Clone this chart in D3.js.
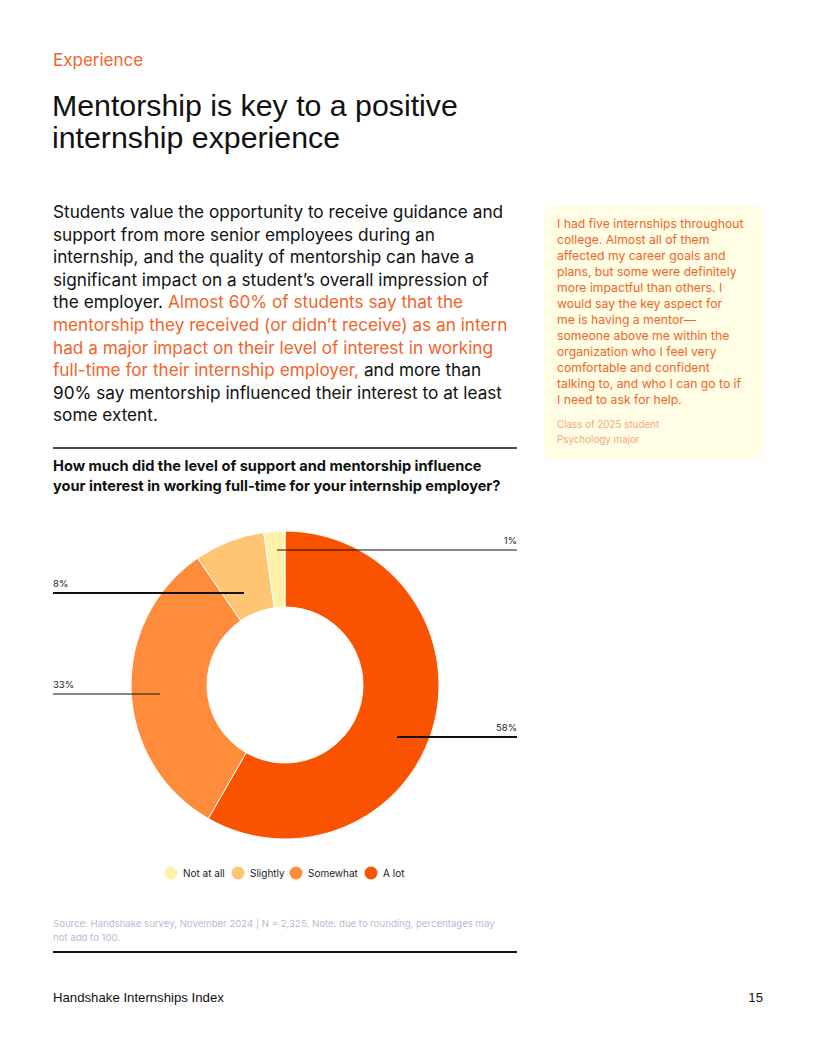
<!DOCTYPE html>
<html><head><meta charset="utf-8">
<script src="https://cdn.jsdelivr.net/npm/d3@7"></script>
<style>body{margin:0;background:#fff;} svg{display:block;}</style>
</head><body>
<svg id="page" width="816" height="1056"></svg>
<script>
// ---- data ----
const categories = ["Not at all", "Slightly", "Somewhat", "A lot"];
const shares = [2.2, 7.4, 32.1, 58.3];           // slice sizes as drawn
const shareLabels = ["1%", "8%", "33%", "58%"];   // printed labels
const colors = ["#FFF1A8", "#FFC572", "#FF8C3B", "#F95200"];

const ORANGE = "#F0652A";
const svg = d3.select("#page");
const F = "Inter, 'Noto Sans', sans-serif";

// header
svg.append("text").attr("x",53).attr("y",66).attr("font-family",F).attr("font-size",17).attr("fill",ORANGE).text("Experience");
["Mentorship is key to a positive","internship experience"].forEach((t,i)=>
  svg.append("text").attr("x",52).attr("y",116+i*32).attr("font-family","'Liberation Sans', Arial, sans-serif")
    .attr("font-size",30.3).attr("fill","#111").text(t));

// body paragraph
const body = [
 [["Students value the opportunity to receive guidance and","#111"]],
 [["support from more senior employees during an","#111"]],
 [["internship, and the quality of mentorship can have a","#111"]],
 [["significant impact on a student\u2019s overall impression of","#111"]],
 [["the employer. ","#111"],["Almost 60% of students say that the",ORANGE]],
 [["mentorship they received (or didn\u2019t receive) as an intern",ORANGE]],
 [["had a major impact on their level of interest in working",ORANGE]],
 [["full-time for their internship employer,",ORANGE],[" and more than","#111"]],
 [["90% say mentorship influenced their interest to at least","#111"]],
 [["some extent.","#111"]]
];
const bt = svg.append("text").attr("font-family",F).attr("font-size",17.2);
body.forEach((line,i)=>{
  line.forEach((seg,j)=>{
    const ts = bt.append("tspan").attr("fill",seg[1]).text(seg[0]);
    if(j===0) ts.attr("x",53).attr("y",218+i*22.6);
  });
});

// quote box
svg.append("rect").attr("x",544).attr("y",205).attr("width",219).attr("height",255).attr("rx",11).attr("fill","#FFFDE3");
const quote = ["I had five internships throughout","college. Almost all of them","affected my career goals and",
 "plans, but some were definitely","more impactful than others. I","would say the key aspect for",
 "me is having a mentor\u2014","someone above me within the","organization who I feel very",
 "comfortable and confident","talking to, and who I can go to if","I need to ask for help."];
quote.forEach((t,i)=>svg.append("text").attr("x",557).attr("y",228+i*16).attr("font-family",F)
  .attr("font-size",12.2).attr("fill",ORANGE).text(t));
["Class of 2025 student","Psychology major"].forEach((t,i)=>svg.append("text").attr("x",557).attr("y",428+i*15)
  .attr("font-family",F).attr("font-size",9.8).attr("fill","#F6A77F").text(t));

// rules
svg.append("line").attr("x1",53).attr("x2",517).attr("y1",448).attr("y2",448).attr("stroke","#111").attr("stroke-width",1.5);
svg.append("line").attr("x1",53).attr("x2",517).attr("y1",952).attr("y2",952).attr("stroke","#111").attr("stroke-width",2);

// chart question
["How much did the level of support and mentorship influence","your interest in working full-time for your internship employer?"]
 .forEach((t,i)=>svg.append("text").attr("x",53).attr("y",471+i*19.5).attr("font-family",F).attr("font-weight",700)
  .attr("font-size",14.6).attr("fill","#111").text(t));

// donut
const cx=285, cy=685, R=154, r=78;
const order=[3,2,1,0]; // A lot first, clockwise from top
const pie = d3.pie().sort(null).value(i=>shares[i]);
const arcs = pie(order);
const arc = d3.arc().innerRadius(r).outerRadius(R);
const g = svg.append("g").attr("transform",`translate(${cx},${cy})`);
g.selectAll("path").data(arcs).join("path").attr("d",arc)
  .attr("fill",d=>colors[d.data]).attr("stroke","#fff").attr("stroke-width",1);

// leader lines & labels
const leaders = {
  0:{x1:277,y:550,x2:517,w:1,  lx:517, anchor:"end"},
  1:{x1:244,y:593,x2:53, w:2,  lx:53,  anchor:"start"},
  2:{x1:160,y:694,x2:53, w:1,  lx:53,  anchor:"start"},
  3:{x1:397,y:737,x2:517,w:2,  lx:517, anchor:"end"}
};
categories.forEach((c,i)=>{
  const L=leaders[i];
  svg.append("line").attr("x1",L.x1).attr("x2",L.x2).attr("y1",L.y).attr("y2",L.y)
    .attr("stroke","#111").attr("stroke-width",L.w);
  svg.append("text").attr("x",L.lx).attr("y",L.y-6).attr("text-anchor",L.anchor)
    .attr("font-family",F).attr("font-size",9.5).attr("fill","#222").text(shareLabels[i]);
});

// legend
const legX=[171,238,296,371];
categories.forEach((c,i)=>{
  svg.append("circle").attr("cx",legX[i]).attr("cy",873).attr("r",6.5).attr("fill",colors[i]);
  svg.append("text").attr("x",legX[i]+12).attr("y",877).attr("font-family",F).attr("font-size",10)
    .attr("fill","#222").text(c);
});

// source
["Source: Handshake survey, November 2024 | N = 2,325. Note: due to rounding, percentages may","not add to 100."]
 .forEach((t,i)=>svg.append("text").attr("x",53).attr("y",927+i*14).attr("font-family",F).attr("font-size",9.6)
  .attr("fill","#BDB9D0").text(t));

// footer
svg.append("text").attr("x",53).attr("y",1002).attr("font-family","'Liberation Sans', Arial, sans-serif").attr("font-size",13.2).attr("fill","#111").text("Handshake Internships Index");
svg.append("text").attr("x",763).attr("y",1002).attr("text-anchor","end").attr("font-family","'Liberation Sans', Arial, sans-serif").attr("font-size",13.2).attr("fill","#111").text("15");
</script>
</body></html>
